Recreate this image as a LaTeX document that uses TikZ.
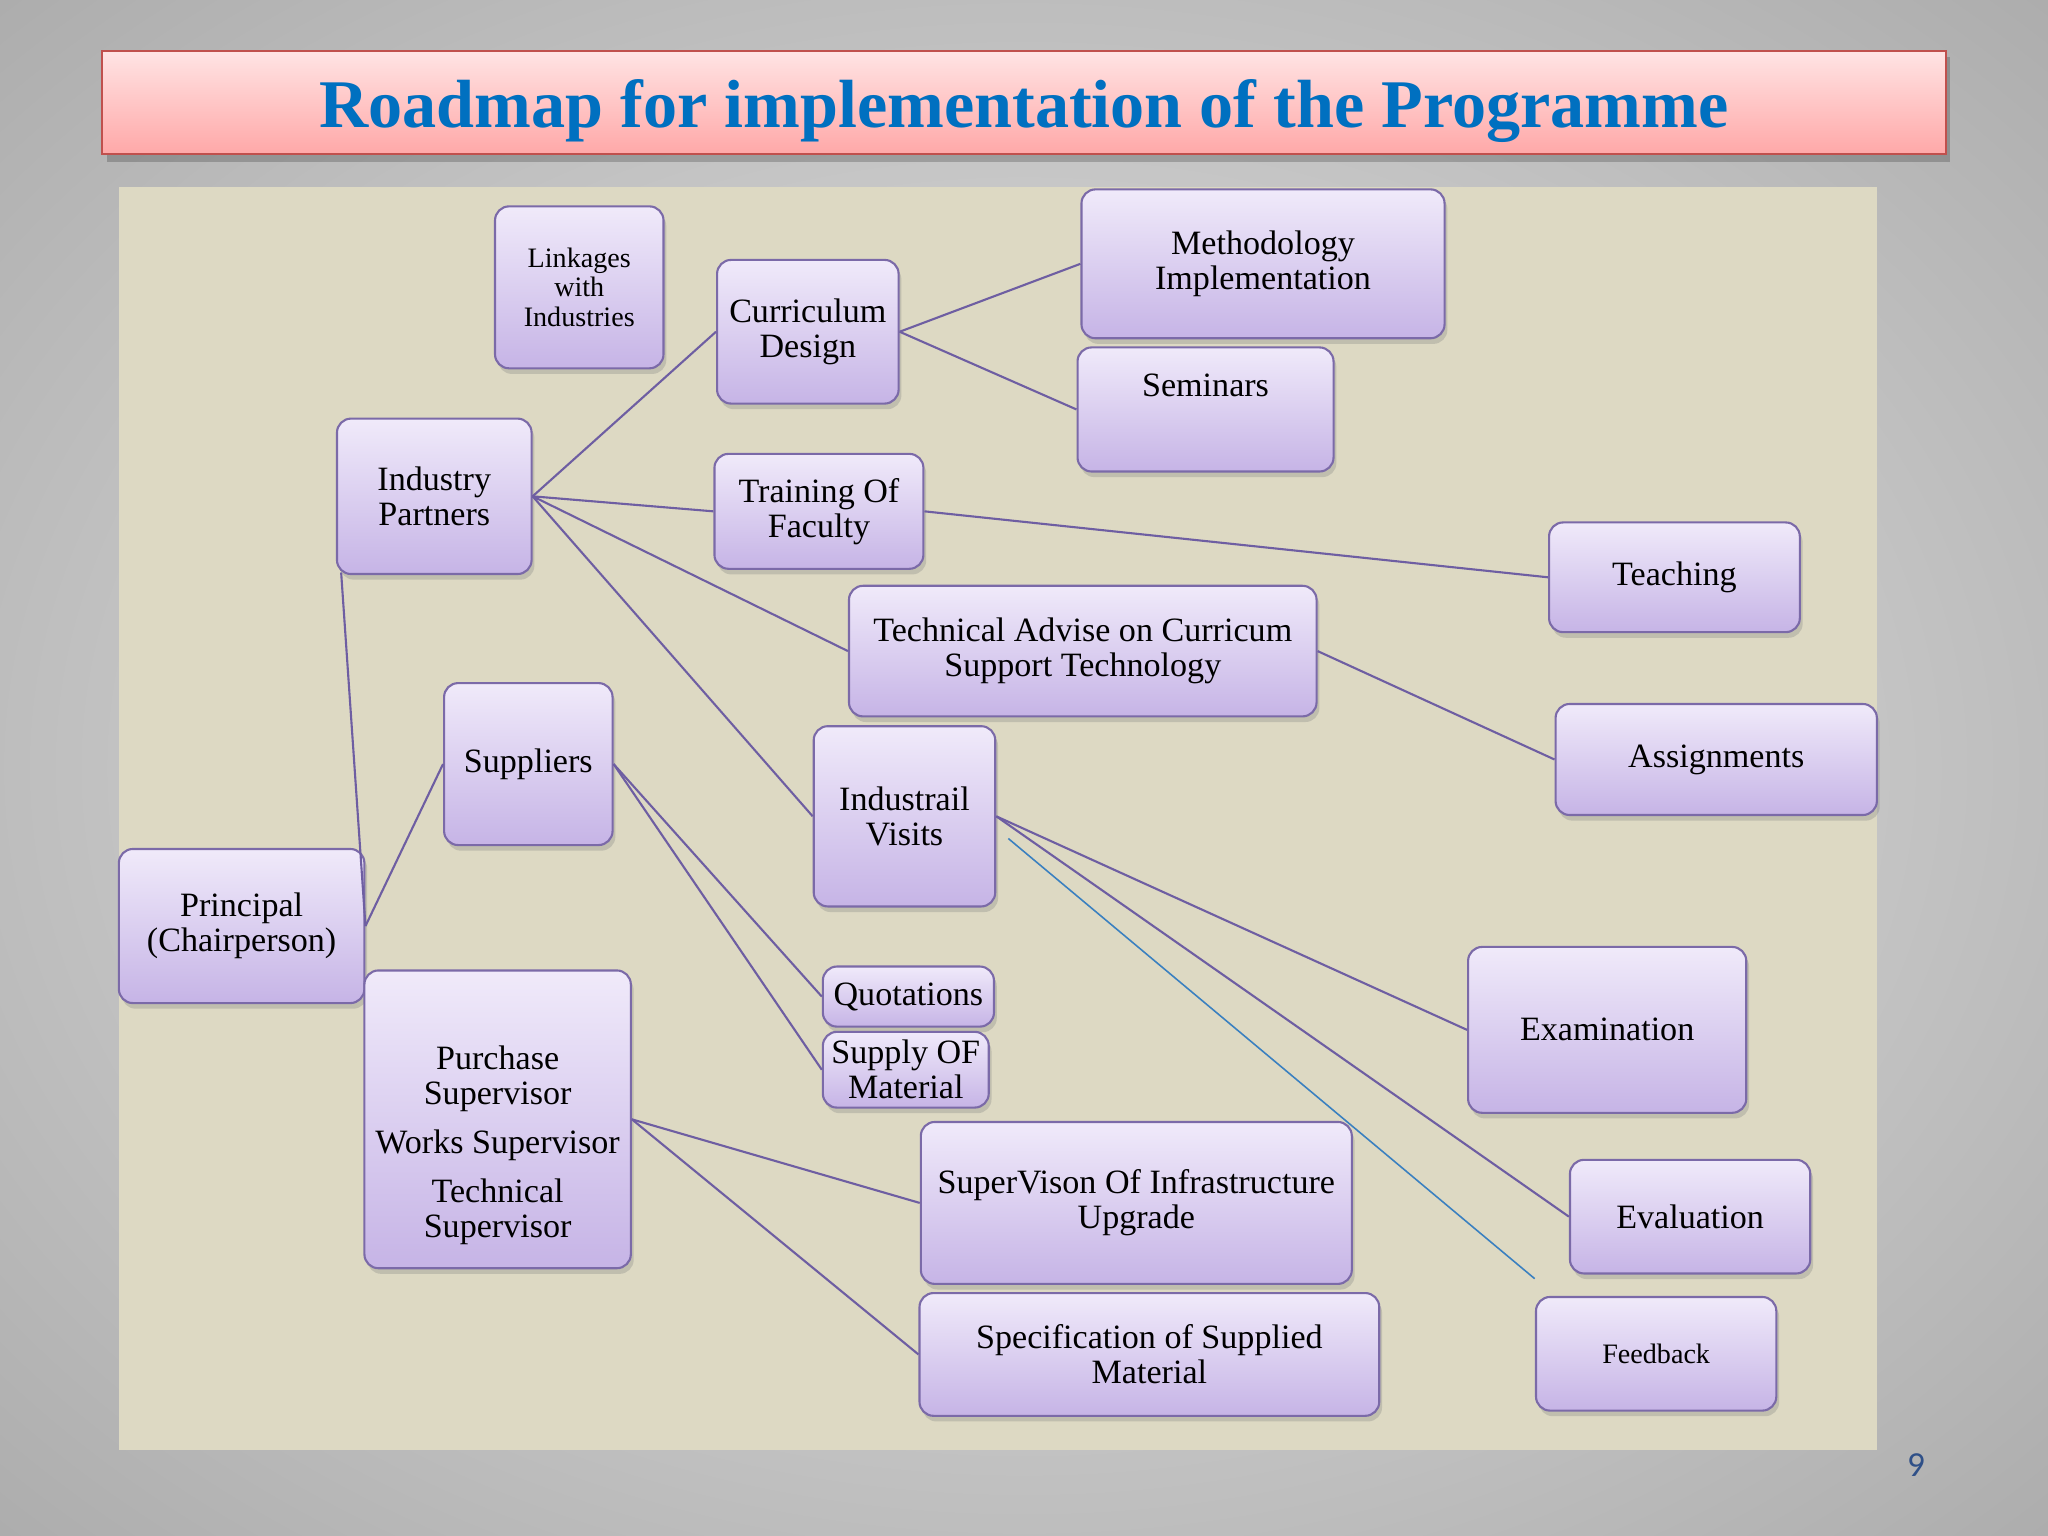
\documentclass[tikz,border=0pt]{standalone}
\usepackage{fontspec}
\setmainfont{Liberation Serif}
\newfontfamily\numfont{Carlito}
\usetikzlibrary{positioning, calc, shadows}

\definecolor{slidebg}{HTML}{9C9C9C}
\definecolor{slidemid}{HTML}{D2D2D2}
\definecolor{panelcol}{HTML}{DDD9C3}
\definecolor{titletop}{HTML}{FFE4E4}
\definecolor{titlebot}{HTML}{FFA8A8}
\definecolor{titleline}{HTML}{C0504D}
\definecolor{titleblue}{HTML}{0070C0}
\definecolor{boxtop}{HTML}{F0EAFA}
\definecolor{boxbot}{HTML}{C6B4E6}
\definecolor{boxline}{HTML}{7B6AA8}
\definecolor{linkcol}{HTML}{6E5EA2}
\definecolor{bluelink}{HTML}{3A80C0}
\definecolor{numcol}{HTML}{2F5088}

\pgfdeclareradialshading{slideshade}{\pgfpointorigin}{color(0bp)=(slidemid); color(12bp)=(slidemid); color(46bp)=(slidebg); color(50bp)=(slidebg)}

\newcommand\boxfont{\fontsize{9.7}{10}\selectfont}
\newcommand\smallboxfont{\fontsize{8}{8.4}\selectfont}

\tikzset{
  box/.style={draw=boxline, line width=0.6pt, rounded corners=4pt,
    top color=boxtop, bottom color=boxbot, align=center, inner sep=1pt,
    font=\boxfont,
    drop shadow={shadow xshift=0.8pt, shadow yshift=-1.6pt, opacity=0.3}},
  smallbox/.style={box, font=\smallboxfont},
  sz/.style 2 args={minimum width=#1*0.013061cm, minimum height=#2*0.013061cm},
  link/.style={draw=linkcol, line width=0.6pt},
  bluelinkstyle/.style={draw=bluelink, line width=0.45pt}
}

\begin{document}
\begin{tikzpicture}[x=0.013061cm, y=-0.013061cm]
  \useasboundingbox (0,0) rectangle (1568,1176);
  % slide background
  \shade[shading=slideshade] (0,0) rectangle (1568,1176);
  % title bar
  \fill[black, opacity=0.2] (82,44) rectangle (1493,124);
  \shade[top color=titletop, bottom color=titlebot, draw=titleline, line width=0.6pt]
    (78,39) rectangle (1490,118);
  \node[font=\fontsize{19.4}{22}\selectfont\bfseries, text=titleblue] (title) at (784,85)
    {Roadmap for implementation of the Programme};
  % panel
  \fill[panelcol] (91,143) rectangle (1437,1110);
  \node[font=\numfont\fontsize{10}{12}\selectfont, text=numcol] (pagenum) at (1467,1122) {9};

  % boxes
  \node[smallbox, sz={129}{124}] (lnk) at (443.5,220) {Linkages\\with\\Industries};
  \node[box, sz={139}{110}] (cd) at (618.5,254) {Curriculum\\Design};
  \node[box, sz={278}{114}] (meth) at (967,202) {Methodology\\Implementation};
  \node[box, sz={196}{95}, label={[yshift=0.24cm, font=\boxfont]center:Seminars}] (sem) at (923,313.5) {};
  \node[box, sz={149}{119}] (ip) at (332.5,380) {Industry\\Partners};
  \node[box, sz={160}{88}] (tof) at (627,391.5) {Training Of\\Faculty};
  \node[box, sz={192}{84}] (teach) at (1282,442) {Teaching};
  \node[box, sz={358}{100}] (tech) at (829,498.5) {Technical Advise on Curricum\\Support Technology};
  \node[box, sz={246}{85}] (asg) at (1314,581.5) {Assignments};
  \node[box, sz={129}{124}] (sup) at (404.5,585) {Suppliers};
  \node[box, sz={139}{138}] (iv) at (692.5,625) {Industrail\\Visits};
  \node[box, sz={188}{118}] (pr) at (185,709) {Principal\\(Chairperson)};
  \node[box, sz={204}{228}, label={[yshift=-0.26cm, align=center, font=\boxfont]center:Purchase\\Supervisor\\[4pt]Works Supervisor\\[4pt]Technical\\Supervisor}] (ps) at (381,857) {};
  \node[box, sz={131}{46}] (quo) at (695.5,763) {Quotations};
  \node[box, sz={127}{58}] (sof) at (693.5,819) {Supply OF\\Material};
  \node[box, sz={213}{127}] (exam) at (1230.5,788.5) {Examination};
  \node[box, sz={330}{124}] (svi) at (870,921) {SuperVison Of Infrastructure\\Upgrade};
  \node[box, sz={184}{87}] (eval) at (1294,931.5) {Evaluation};
  \node[box, sz={352}{94}] (spec) at (880,1037) {Specification of Supplied\\Material};
  \node[smallbox, sz={184}{87}] (fb) at (1268,1036.5) {Feedback};

  % connectors
  \draw[link] (ip.east) -- (cd.west);
  \draw[link] (ip.east) -- (tof.west);
  \draw[link] (ip.east) -- (tech.west);
  \draw[link] (ip.east) -- (iv.west);
  \draw[link] ([shift={(4,-2)}]ip.south west) -- (pr.east);
  \draw[link] (pr.east) -- (sup.west);
  \draw[link] (cd.east) -- (meth.west);
  \draw[link] (cd.east) -- (sem.west);
  \draw[link] (tof.east) -- (teach.west);
  \draw[link] (tech.east) -- (asg.west);
  \draw[link] (sup.east) -- (quo.west);
  \draw[link] (sup.east) -- (sof.west);
  \draw[link] (iv.east) -- (exam.west);
  \draw[link] (iv.east) -- (eval.west);
  \draw[link] (ps.east) -- (svi.west);
  \draw[link] (ps.east) -- (spec.west);
  \coordinate (bstart) at (772,642);
  \coordinate (bend) at (1175,979);
  \draw[bluelinkstyle] (bstart) -- (bend);
\end{tikzpicture}
\end{document}
